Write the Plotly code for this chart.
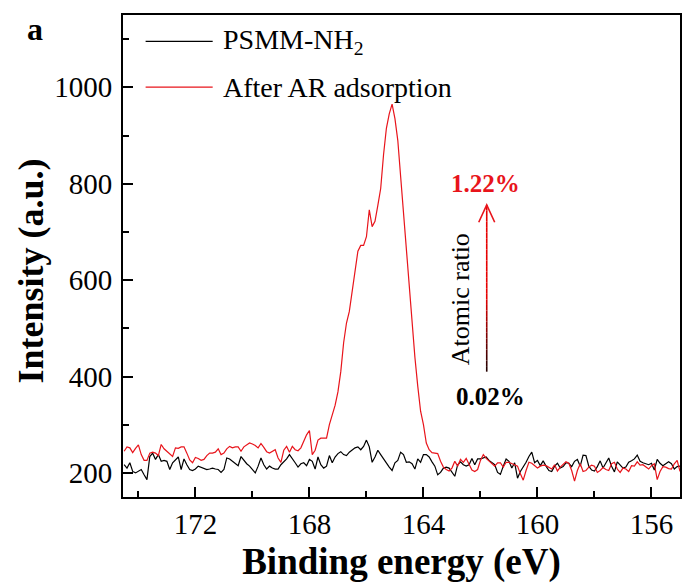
import plotly.graph_objects as go

energy = [
    174.5, 174.4, 174.3, 174.2, 174.1, 174.0, 173.9, 173.8, 173.7, 173.6,
    173.5, 173.4, 173.3, 173.2, 173.1, 173.0, 172.9, 172.8, 172.7, 172.6,
    172.5, 172.4, 172.3, 172.2, 172.1, 172.0, 171.9, 171.8, 171.7, 171.6,
    171.5, 171.4, 171.3, 171.2, 171.1, 171.0, 170.9, 170.8, 170.7, 170.6,
    170.5, 170.4, 170.3, 170.2, 170.1, 170.0, 169.9, 169.8, 169.7, 169.6,
    169.5, 169.4, 169.3, 169.2, 169.1, 169.0, 168.9, 168.8, 168.7, 168.6,
    168.5, 168.4, 168.3, 168.2, 168.1, 168.0, 167.9, 167.8, 167.7, 167.6,
    167.5, 167.4, 167.3, 167.2, 167.1, 167.0, 166.9, 166.8, 166.7, 166.6,
    166.5, 166.4, 166.3, 166.2, 166.1, 166.0, 165.9, 165.8, 165.7, 165.6,
    165.5, 165.4, 165.3, 165.2, 165.1, 165.0, 164.9, 164.8, 164.7, 164.6,
    164.5, 164.4, 164.3, 164.2, 164.1, 164.0, 163.9, 163.8, 163.7, 163.6,
    163.5, 163.4, 163.3, 163.2, 163.1, 163.0, 162.9, 162.8, 162.7, 162.6,
    162.5, 162.4, 162.3, 162.2, 162.1, 162.0, 161.9, 161.8, 161.7, 161.6,
    161.5, 161.4, 161.3, 161.2, 161.1, 161.0, 160.9, 160.8, 160.7, 160.6,
    160.5, 160.4, 160.3, 160.2, 160.1, 160.0, 159.9, 159.8, 159.7, 159.6,
    159.5, 159.4, 159.3, 159.2, 159.1, 159.0, 158.9, 158.8, 158.7, 158.6,
    158.5, 158.4, 158.3, 158.2, 158.1, 158.0, 157.9, 157.8, 157.7, 157.6,
    157.5, 157.4, 157.3, 157.2, 157.1, 157.0, 156.9, 156.8, 156.7, 156.6,
    156.5, 156.4, 156.3, 156.2, 156.1, 156.0, 155.9, 155.8, 155.7, 155.6,
    155.5, 155.4, 155.3, 155.2, 155.1, 155.0,
]

psmm_nh2 = [
    217, 210, 221, 203, 200, 203, 207, 196, 186, 234,
    241, 228, 238, 224, 226, 224, 207, 221, 228, 233,
    207, 229, 217, 207, 205, 208, 214, 212, 210, 207,
    208, 210, 208, 207, 201, 207, 231, 229, 224, 219,
    215, 234, 226, 219, 214, 208, 200, 214, 231, 217,
    208, 214, 210, 208, 208, 217, 222, 229, 238, 228,
    221, 212, 219, 221, 215, 228, 224, 208, 233, 217,
    210, 214, 236, 221, 233, 240, 244, 238, 236, 243,
    248, 252, 254, 248, 255, 268, 254, 222, 233, 247,
    238, 229, 219, 212, 205, 221, 226, 243, 238, 222,
    223, 219, 208, 229, 222, 238, 238, 233, 223, 214,
    196, 201, 210, 212, 210, 200, 193, 217, 223, 217,
    214, 217, 230, 217, 229, 229, 231, 233, 226, 221,
    217, 201, 197, 214, 229, 224, 210, 221, 189, 203,
    212, 222, 234, 243, 221, 226, 215, 225, 214, 205,
    203, 214, 220, 210, 213, 221, 220, 213, 224, 228,
    214, 237, 236, 214, 206, 204, 213, 225, 210, 221,
    231, 214, 202, 223, 216, 210, 212, 222, 225, 229,
    237, 224, 221, 219, 217, 220, 206, 228, 220, 215,
    219, 223, 219, 208, 213, 214,
]

after_ar = [
    245, 254, 252, 242, 251, 258, 238, 226, 226, 241,
    243, 241, 236, 259, 250, 245, 241, 234, 252, 251,
    254, 254, 241, 227, 221, 232, 230, 226, 228, 236,
    241, 241, 243, 250, 238, 241, 250, 255, 252, 254,
    254, 245, 254, 259, 262, 260, 257, 252, 261, 253,
    244, 241, 245, 248, 231, 222, 247, 255, 243, 255,
    248, 246, 252, 266, 279, 288, 238, 247, 268, 272,
    272, 272, 300, 318, 340, 368, 410, 470, 511, 535,
    580, 615, 660, 672, 672, 690, 746, 711, 722, 755,
    790, 860, 915, 945, 965, 935, 890, 815, 740, 660,
    580, 497, 440, 380, 328, 300, 262, 248, 242, 241,
    240, 224, 212, 207, 204, 210, 224, 214, 228, 222,
    230, 218, 206, 203, 207, 226, 238, 230, 225, 218,
    214, 221, 221, 212, 222, 222, 219, 217, 214, 198,
    185, 205, 222, 220, 214, 210, 214, 216, 215, 212,
    208, 217, 204, 212, 218, 223, 220, 205, 183, 205,
    219, 203, 205, 212, 216, 214, 201, 205, 211, 207,
    205, 219, 222, 208, 201, 210, 208, 203, 215, 214,
    223, 216, 217, 212, 208, 215, 219, 186, 203, 213,
    212, 209, 208, 219, 226, 203,
]

series_names = ["PSMM-NH<sub>2</sub>", "After AR adsorption"]
series_colors = ["#000000", "#e8141b"]
x_ticks = [172, 168, 164, 160, 156]
y_ticks = [200, 400, 600, 800, 1000]

FONT = "Liberation Serif, Times New Roman, serif"

fig = go.Figure()
fig.add_trace(go.Scatter(x=energy, y=psmm_nh2, mode="lines", name=series_names[0],
                         line=dict(color=series_colors[0], width=1.2), showlegend=False))
fig.add_trace(go.Scatter(x=energy, y=after_ar, mode="lines", name=series_names[1],
                         line=dict(color=series_colors[1], width=1.2), showlegend=False))

# manual legend
legend_y = [0.9454, 0.8502]
for name, col, ly in zip(series_names, series_colors, legend_y):
    fig.add_shape(type="line", xref="paper", yref="paper", x0=0.0406, x1=0.161, y0=ly, y1=ly,
                  line=dict(color=col, width=1.3))
    fig.add_annotation(xref="paper", yref="paper", x=0.176, y=ly, xanchor="left", yanchor="middle",
                       text=name, showarrow=False, font=dict(family=FONT, size=28, color="black"))

# gradient arrow (atomic ratio)
arrow_x = 161.78
arrow_y0, arrow_y1 = 410, 756
nseg = 30
for k in range(nseg):
    ya = arrow_y0 + (arrow_y1 - arrow_y0) * k / nseg
    yb = arrow_y0 + (arrow_y1 - arrow_y0) * (k + 1) / nseg
    t = min(1.0, (k + 0.5) / (nseg * 0.45))
    col = f"rgb({int(30 + 200 * t)},0,0)"
    fig.add_shape(type="line", xref="x", yref="y", x0=arrow_x, x1=arrow_x, y0=ya, y1=yb,
                  line=dict(color=col, width=1.6))
fig.add_shape(type="path", xref="x", yref="y",
              path=f"M {arrow_x - 0.28},{arrow_y1 - 36} L {arrow_x},{arrow_y1} L {arrow_x + 0.28},{arrow_y1 - 36}",
              line=dict(color="#e8141b", width=1.6))

fig.add_annotation(x=161.84, y=805, text="<b>1.22%</b>", showarrow=False,
                   font=dict(family=FONT, size=25, color="#e8141b"), yshift=-2)
fig.add_annotation(x=161.66, y=362, text="<b>0.02%</b>", showarrow=False,
                   font=dict(family=FONT, size=25, color="black"), yshift=-2)
fig.add_annotation(x=162.67, y=561, text="Atomic ratio", showarrow=False, textangle=-90,
                   font=dict(family=FONT, size=26, color="black"))
fig.add_annotation(xref="paper", yref="paper", x=-0.158, y=0.970, xanchor="center", yanchor="middle",
                   text="<b>a</b>", showarrow=False,
                   font=dict(family=FONT, size=32, color="black"))
fig.add_annotation(xref="paper", yref="paper", x=-0.166, y=0.469, xanchor="center", yanchor="middle",
                   text="<b>Intensity (a.u.)</b>",
                   showarrow=False, textangle=-90, font=dict(family=FONT, size=36, color="black"))

fig.update_layout(
    width=683, height=585,
    margin=dict(l=123, r=1, t=15, b=88),
    paper_bgcolor="white", plot_bgcolor="white",
    font=dict(family=FONT, size=29, color="black"),
    showlegend=False,
)
fig.update_xaxes(
    range=[174.54, 155.0], tickvals=x_ticks, ticktext=[str(v) for v in x_ticks],
    ticks="inside", ticklen=10, tickwidth=2, tickcolor="black",
    minor=dict(ticks="inside", ticklen=6, tickwidth=2, dtick=2, tick0=0, tickcolor="black"),
    showline=True, linewidth=2, linecolor="black", mirror=True,
    showgrid=False, zeroline=False,
    tickfont=dict(family=FONT, size=29),
    title=dict(text="<b>Binding energy (eV)</b>", font=dict(family=FONT, size=37), standoff=9),
)
fig.update_yaxes(
    range=[150, 1150], tickvals=y_ticks, ticktext=[str(v) for v in y_ticks],
    ticks="inside", ticklen=10, tickwidth=2, tickcolor="black",
    minor=dict(ticks="inside", ticklen=6, tickwidth=2, dtick=100, tick0=0, tickcolor="black"),
    showline=True, linewidth=2, linecolor="black", mirror=True,
    showgrid=False, zeroline=False,
    tickfont=dict(family=FONT, size=29),
    ticklabelstandoff=3,
)

fig.write_html("out.html", config={"displayModeBar": False},
               post_script="document.body.style.margin='0px';document.body.style.padding='0px';document.body.style.overflow='hidden';")
